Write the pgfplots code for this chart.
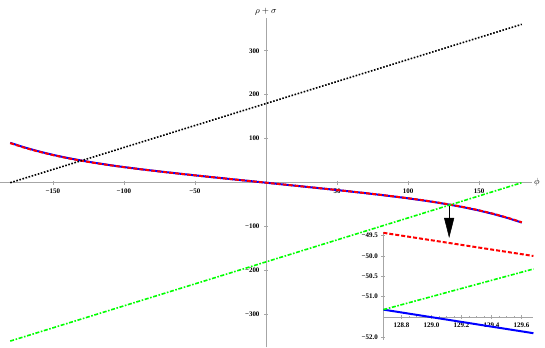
\documentclass[border=0pt]{standalone}
\usepackage{fontspec}
\setmainfont{Liberation Serif}
\usepackage{pgfplots}
\pgfplotsset{compat=1.18}
\usetikzlibrary{arrows.meta}
\definecolor{axgray}{gray}{0.65}
\begin{document}
\begin{tikzpicture}
\begin{axis}[
  scale only axis, width=532bp, height=329.4bp,
  at={(0,0)}, anchor=south west,
  xmin=-187.2, xmax=187.2, ymin=-374.4, ymax=374.4,
  axis lines=middle,
  axis line style={draw=axgray, line width=0.6bp, -},
  xtick={-150,-100,-50,50,100,150},
  xticklabels={−150,−100,−50,50,100,150},
  ytick={-300,-200,-100,100,200,300},
  yticklabels={−300,−200,−100,100,200,300},
  minor x tick num=4, minor y tick num=4,
  major tick length=4bp, minor tick length=2.5bp,
  every tick/.style={draw=axgray, line width=0.5bp},
  tick label style={font=\fontsize{7}{8}\selectfont\bfseries, text=black},
  xticklabel style={yshift=-1bp},
  yticklabel style={xshift=-1bp},
  clip=false,
]
% blue
\addplot[blue, line width=2bp] coordinates {
(-180,90.6)(-170,80.2)(-160,71.2)(-150,63.3)(-140,56.4)(-130,50.4)(-120,44.9)(-110,40.0)(-100,35.5)(-90,31.4)(-80,27.5)(-70,23.8)(-60,20.2)(-50,16.7)(-40,13.3)(-30,9.95)(-20,6.62)(-10,3.31)(0,0)
(10,-3.31)(20,-6.62)(30,-9.95)(40,-13.3)(50,-16.7)(60,-20.2)(70,-23.8)(80,-27.5)(90,-31.4)(100,-35.5)(110,-40.0)(120,-44.9)(130,-50.4)(140,-56.4)(150,-63.3)(160,-71.2)(170,-80.2)(180,-90.6)};
% red dashed
\addplot[red, line width=2bp, dash pattern=on 4bp off 2bp] coordinates {
(-180,89.97)(-170,79.62)(-160,70.65)(-150,62.85)(-140,56.02)(-130,49.99)(-120,44.62)(-110,39.77)(-100,35.33)(-90,31.22)(-80,27.35)(-70,23.67)(-60,20.12)(-50,16.67)(-40,13.28)(-30,9.93)(-20,6.61)(-10,3.30)(0,0)
(10,-3.30)(20,-6.61)(30,-9.93)(40,-13.28)(50,-16.67)(60,-20.12)(70,-23.67)(80,-27.35)(90,-31.22)(100,-35.33)(110,-39.77)(120,-44.62)(130,-49.99)(140,-56.02)(150,-62.85)(160,-70.65)(170,-79.62)(180,-89.97)};
% green dash-dot
\addplot[color={rgb,1:red,0;green,1;blue,0}, line width=1.6bp, dash pattern=on 4bp off 1.6bp on 1.6bp off 1.6bp] coordinates {(-180,-360)(180,0)};
% black dotted
\addplot[black, line width=1.6bp, dash pattern=on 1.6bp off 1.6bp] coordinates {(-180,0)(180,360)};
\node[anchor=west, inner sep=2bp] at (axis cs:187.2,0) {\fontsize{9.5}{10}\selectfont$\phi$};
\node[anchor=south, inner sep=3bp] at (axis cs:0,374.4) {\fontsize{9.5}{10}\selectfont$\rho+\sigma$};
\draw[black, line width=0.5bp, -{Triangle[width=10bp,length=20bp]}] (axis cs:128.9,-53) -- (axis cs:128.9,-125.7);
\end{axis}
\begin{axis}[
  scale only axis, width=150bp, height=108.1bp,
  at={(383.4bp,7.7bp)}, anchor=south west,
  xmin=128.68, xmax=129.68, ymin=-52.06, ymax=-49.4,
  axis x line=bottom, axis y line=left,
  axis x line shift=-22.76bp,
  axis line style={draw=axgray, line width=0.6bp, -},
  xtick={128.8,129.0,129.2,129.4,129.6},
  xticklabels={128.8,129.0,129.2,129.4,129.6},
  ytick={-52,-51,-50.5,-50,-49.5},
  yticklabels={−52.0,−51.0,−50.5,−50.0,−49.5},
  minor x tick num=3, minor y tick num=4,
  major tick length=4bp, minor tick length=2.5bp,
  every tick/.style={draw=axgray, line width=0.5bp},
  tick label style={font=\fontsize{7}{8}\selectfont\bfseries, text=black},
  clip=false,
]
\addplot[blue, line width=2bp] coordinates {(128.68,-51.32)(129.68,-51.90)};
\addplot[red, line width=2bp, dash pattern=on 4bp off 2bp] coordinates {(128.68,-49.43)(129.68,-50.00)};
\addplot[color={rgb,1:red,0;green,1;blue,0}, line width=1.6bp, dash pattern=on 4bp off 1.6bp on 1.6bp off 1.6bp] coordinates {(128.68,-51.32)(129.68,-50.32)};
\end{axis}
\pgfresetboundingbox
\path[use as bounding box] (0,-0.6bp) rectangle (545bp,347.4bp);
\end{tikzpicture}
\end{document}
